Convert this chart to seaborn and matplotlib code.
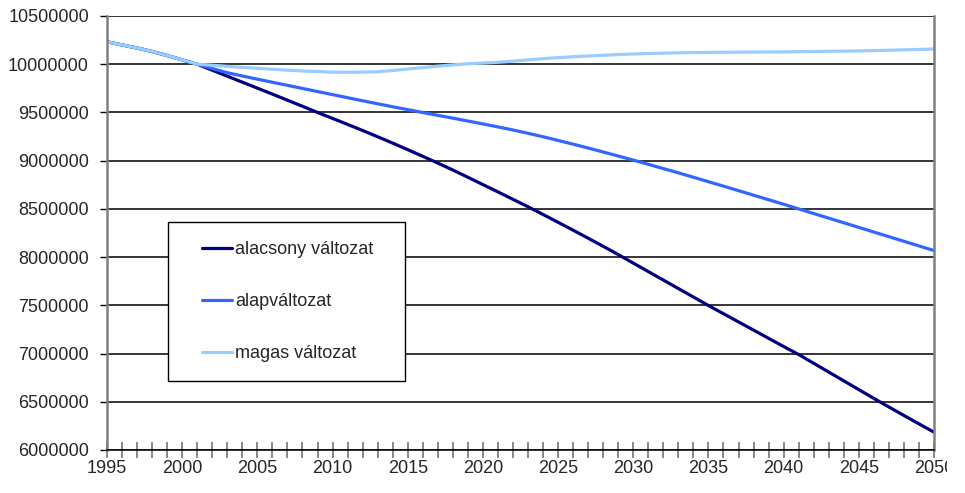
import pandas as pd
import matplotlib.pyplot as plt
import seaborn as sns
from matplotlib.ticker import MultipleLocator
from matplotlib.transforms import Bbox, TransformedBbox
from matplotlib.legend_handler import HandlerLine2D
from matplotlib.lines import Line2D

years = list(range(1995, 2051))

# common part 1995-2000, then the three scenarios from 2001 (thousands)
common = [10233, 10200, 10168, 10132, 10090, 10045]

low = [10000, 9938, 9876, 9814, 9752, 9690, 9627, 9564, 9500, 9438,
       9376, 9313, 9248, 9182, 9114, 9045, 8975, 8903, 8828, 8752,
       8676, 8599, 8522, 8442, 8361, 8279, 8196, 8112, 8026, 7938,
       7850, 7762, 7674, 7586, 7498, 7413, 7328, 7243, 7158, 7073,
       6990, 6899, 6808, 6717, 6626, 6535, 6446, 6358, 6271, 6185]

base = [10000, 9955, 9912, 9878, 9845, 9813, 9781, 9749, 9717, 9685,
        9653, 9621, 9590, 9559, 9529, 9499, 9470, 9441, 9411, 9381,
        9350, 9318, 9284, 9248, 9210, 9171, 9131, 9090, 9048, 9006,
        8962, 8918, 8874, 8828, 8782, 8736, 8689, 8642, 8595, 8548,
        8500, 8452, 8404, 8356, 8308, 8260, 8212, 8164, 8116, 8068]

high = [10000, 9990, 9978, 9968, 9958, 9948, 9938, 9930, 9924, 9918,
        9916, 9918, 9922, 9935, 9950, 9965, 9980, 9993, 10005, 10012,
        10020, 10032, 10045, 10058, 10068, 10077, 10085, 10093, 10100, 10106,
        10111, 10115, 10118, 10121, 10123, 10124, 10125, 10126, 10127, 10128,
        10130, 10132, 10134, 10136, 10138, 10141, 10145, 10149, 10153, 10158]

labels = ["alacsony változat", "alapváltozat", "magas változat"]
colors = ["#000080", "#3366FF", "#99CCFF"]

# long format table for seaborn
rows = []
for name, vals in zip(labels, [low, base, high]):
    for y, v in zip(years, common + vals):
        rows.append({"ev": y, "nepesseg": v * 1000, "valtozat": name})
df = pd.DataFrame(rows)

sns.set_style("white")
plt.rcParams['font.family'] = ['Liberation Sans', 'DejaVu Sans']

fig = plt.figure(figsize=(9.65, 4.93), dpi=100)
ax = fig.add_axes([107/965, 1 - 450/493, 827/965, 434/493])

# light line drawn last so it sits on top like in the original
sns.lineplot(data=df, x="ev", y="nepesseg", hue="valtozat",
             hue_order=labels, palette=colors, linewidth=2.3,
             ax=ax, legend=False)

ax.set_xlim(1995, 2050)
ax.set_ylim(6000000, 10500000)
ax.set_xlabel("")
ax.set_ylabel("")

# horizontal gridlines
ax.yaxis.set_major_locator(MultipleLocator(500000))
ax.yaxis.grid(True, color="black", linewidth=1.1)
ax.xaxis.grid(False)
ax.set_axisbelow(True)

ax.xaxis.set_major_locator(MultipleLocator(5))
ax.xaxis.set_minor_locator(MultipleLocator(1))
ax.ticklabel_format(axis="y", style="plain", useOffset=False)

ax.tick_params(axis="y", which="major", left=True, direction="out",
               length=5, width=1, color="black", labelsize=13, pad=8)
ax.tick_params(axis="x", which="both", bottom=True, direction="inout",
               length=11, width=1.3, color="#808080", labelsize=13, pad=2)

for side in ["left", "right"]:
    ax.spines[side].set_color("#808080")
    ax.spines[side].set_linewidth(1.8)
ax.spines["top"].set_visible(False)
ax.spines["bottom"].set_color("black")
ax.spines["bottom"].set_linewidth(1.1)

# legend box: wide side padding, short line samples
handles = [Line2D([], [], color=c, linewidth=2.3) for c in colors]
leg = ax.legend(handles, labels, loc="upper left",
                bbox_to_anchor=(61/827, 72/434, 237/827, 156/434),
                mode="expand", fontsize=13,
                frameon=True, fancybox=False, shadow=False,
                borderpad=1.05, labelspacing=1.95, handlelength=3.32,
                handletextpad=-0.66, borderaxespad=0,
                handler_map={Line2D: HandlerLine2D(numpoints=2, marker_pad=0.83)})
leg.get_frame().set_edgecolor("black")
leg.get_frame().set_linewidth(1.0)
leg.get_frame().set_alpha(1)

# the original picture cuts off the last year label near the right edge
fig.canvas.draw()
clip = TransformedBbox(Bbox([[0, 0], [947/965, 1]]), fig.transFigure)
for t in ax.get_xticklabels():
    t.set_clip_box(clip)
    t.set_clip_on(True)

fig.savefig("out.png", dpi=100)
